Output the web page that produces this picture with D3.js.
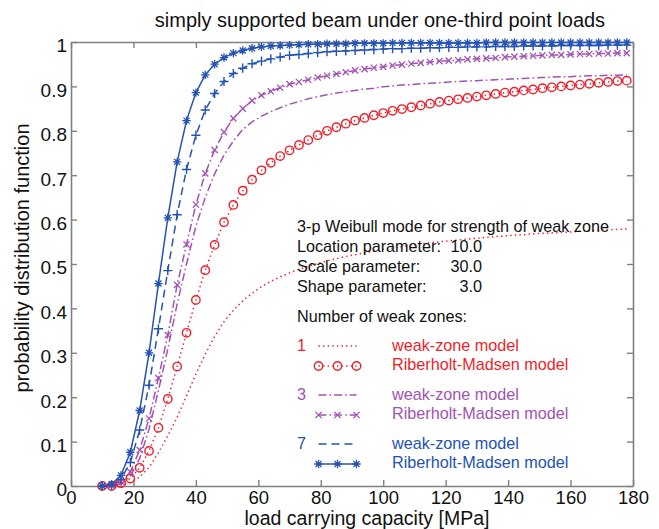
<!DOCTYPE html>
<html><head><meta charset="utf-8">
<script src="https://cdn.jsdelivr.net/npm/d3@7"></script>
<style>
body{margin:0;background:#fff}
svg{display:block}
text{font-family:"Liberation Sans",Arial,Helvetica,sans-serif}
</style>
</head><body>
<svg id="c" width="659" height="529"></svg>
<script>
// ---- data ----
const loads = [10,13,16,19,22,25,28,31,34,37,40,43,46,49,52,55,58,61,64,67,70,73,76,79,82,85,88,91,94,97,100,103,106,109,112,115,118,121,124,127,130,133,136,139,142,145,148,151,154,157,160,163,166,169,172,175,178];

const weak1 = [0,0,0.002,0.008,0.020,0.042,0.075,0.113,0.155,0.203,
  0.252,0.297,0.337,0.370,0.396,0.417,0.434,0.449,0.461,0.471,
  0.480,0.488,0.495,0.501,0.507,0.512,0.517,0.521,0.525,0.529,
  0.533,0.536,0.539,0.542,0.545,0.548,0.550,0.552,0.554,0.556,
  0.558,0.560,0.562,0.563,0.565,0.566,0.568,0.569,0.570,0.571,
  0.572,0.574,0.575,0.576,0.577,0.578,0.579];
const rm1 = [0,0,0.006,0.017,0.041,0.079,0.131,0.196,0.269,0.345,
  0.419,0.486,0.543,0.594,0.633,0.665,0.690,0.711,0.728,0.743,
  0.756,0.768,0.779,0.790,0.800,0.808,0.816,0.823,0.829,0.835,
  0.840,0.845,0.849,0.853,0.857,0.861,0.865,0.868,0.871,0.874,
  0.877,0.880,0.883,0.886,0.888,0.891,0.893,0.896,0.898,0.900,
  0.902,0.904,0.906,0.908,0.910,0.912,0.913];
const weak3 = [0,0,0.004,0.022,0.062,0.128,0.215,0.308,0.410,0.500,
  0.585,0.650,0.703,0.745,0.777,0.803,0.820,0.833,0.843,0.852,
  0.860,0.866,0.872,0.877,0.881,0.885,0.888,0.891,0.894,0.896,
  0.899,0.901,0.903,0.904,0.906,0.907,0.908,0.910,0.911,0.912,
  0.913,0.914,0.915,0.916,0.917,0.918,0.919,0.920,0.921,0.922,
  0.922,0.923,0.924,0.924,0.925,0.925,0.926];
const rm3 = [0,0.001,0.010,0.032,0.081,0.152,0.243,0.340,0.453,0.544,
  0.634,0.704,0.757,0.797,0.828,0.850,0.868,0.880,0.889,0.897,
  0.905,0.910,0.915,0.920,0.924,0.928,0.932,0.936,0.939,0.942,
  0.944,0.947,0.949,0.951,0.953,0.955,0.957,0.958,0.959,0.961,
  0.962,0.963,0.964,0.966,0.967,0.968,0.969,0.970,0.971,0.971,
  0.972,0.973,0.973,0.974,0.974,0.975,0.975];
const weak7 = [0,0.002,0.015,0.053,0.126,0.227,0.354,0.485,0.611,0.713,
  0.790,0.847,0.884,0.911,0.929,0.941,0.951,0.957,0.962,0.966,
  0.970,0.972,0.974,0.976,0.978,0.979,0.980,0.981,0.982,0.983,
  0.984,0.985,0.985,0.986,0.986,0.987,0.987,0.988,0.988,0.989,
  0.989,0.989,0.990,0.990,0.990,0.991,0.991,0.991,0.991,0.992,
  0.992,0.992,0.992,0.992,0.993,0.993,0.993];
const rm7 = [0,0.004,0.024,0.076,0.170,0.300,0.456,0.604,0.730,0.823,
  0.886,0.926,0.950,0.965,0.975,0.981,0.986,0.989,0.991,0.992,
  0.993,0.994,0.995,0.995,0.996,0.996,0.996,0.997,0.997,0.997,
  0.997,0.998,0.998,0.998,0.998,0.998,0.998,0.998,0.998,0.998,
  0.998,0.999,0.999,0.999,0.999,0.999,0.999,0.999,0.999,0.999,
  0.999,0.999,0.999,0.999,0.999,0.999,0.999];

const xTicks = [0,20,40,60,80,100,120,140,160,180];
const yTicks = [0,0.1,0.2,0.3,0.4,0.5,0.6,0.7,0.8,0.9,1];
const yTickLabels = ["0","0.1","0.2","0.3","0.4","0.5","0.6","0.7","0.8","0.9","1"];

const titleText = "simply supported beam under one-third point loads";
const xLabel = "load carrying capacity [MPa]";
const yLabel = "probability distribution function";
const infoLines = ["3-p Weibull mode for strength of weak zone","Location parameter:","Scale parameter:","Shape parameter:"];
const infoValues = ["10.0","30.0","3.0"];
const zoneHeader = "Number of weak zones:";
const zoneCounts = ["1","3","7"];
const modelNames = ["weak-zone model","Riberholt-Madsen model"];

// ---- styles ----
const RED = "#ee1f2b", PURPLE = "#a353b3", BLUE = "#2453b4", AXIS = "#808080";

const series = [
  {vals: weak1, color: RED,    dash: "1.4,3.2", marker: null},
  {vals: rm1,   color: RED,    dash: "1.4,3.2", marker: "o"},
  {vals: weak3, color: PURPLE, dash: "8,3,1.6,3", marker: null},
  {vals: rm3,   color: PURPLE, dash: "8,3,1.6,3", marker: "x"},
  {vals: weak7, color: BLUE,   dash: "8,5", marker: "+"},
  {vals: rm7,   color: BLUE,   dash: null, marker: "*"}
];

const svg = d3.select("#c");
const x = d3.scaleLinear().domain([0,180]).range([71,633]);
const y = d3.scaleLinear().domain([0,1]).range([486,42]);

// ---- axes (MATLAB box with inward ticks) ----
function styleAxis(g, fs){
  g.selectAll(".domain").attr("stroke",AXIS).attr("stroke-width",1.6);
  g.selectAll(".tick line").attr("stroke",AXIS).attr("stroke-width",1.4);
  g.selectAll("text").attr("font-size",fs||19).attr("fill","#111").attr("font-family","'Liberation Sans',Arial,sans-serif");
}
svg.append("g").attr("transform","translate(0,486)")
  .call(d3.axisBottom(x).tickValues(xTicks).tickSizeInner(-6).tickSizeOuter(0).tickPadding(5).tickFormat(d=>String(d)))
  .call(g=>styleAxis(g,18.5));
svg.append("g").attr("transform","translate(0,42)")
  .call(d3.axisTop(x).tickValues(xTicks).tickSizeInner(-6).tickSizeOuter(0).tickFormat(""))
  .call(g=>styleAxis(g));
const gl = svg.append("g").attr("transform","translate(71,0)")
  .call(d3.axisLeft(y).tickValues(yTicks).tickSizeInner(-6).tickSizeOuter(0).tickPadding(4).tickFormat((d,i)=>yTickLabels[i]))
  .call(g=>styleAxis(g,19));
gl.selectAll("text").attr("dy","0.52em");
svg.append("g").attr("transform","translate(633,0)")
  .call(d3.axisRight(y).tickValues(yTicks).tickSizeInner(-6).tickSizeOuter(0).tickFormat(""))
  .call(g=>styleAxis(g));

// ---- markers ----
function drawMarker(g, type, cx, cy, color){
  if(type==="o"){
    g.append("circle").attr("cx",cx).attr("cy",cy).attr("r",4.2)
      .attr("fill","none").attr("stroke",color).attr("stroke-width",1.4);
  } else if(type==="x"){
    const s=3.1;
    g.append("path").attr("d",`M${cx-s},${cy-s}L${cx+s},${cy+s}M${cx-s},${cy+s}L${cx+s},${cy-s}`)
      .attr("stroke",color).attr("stroke-width",1.3).attr("fill","none");
  } else if(type==="+"){
    const s=4.6;
    g.append("path").attr("d",`M${cx-s},${cy}L${cx+s},${cy}M${cx},${cy-s}L${cx},${cy+s}`)
      .attr("stroke",color).attr("stroke-width",1.4).attr("fill","none");
  } else if(type==="*"){
    const s=4.2, d=3.0;
    g.append("path").attr("d",`M${cx-s},${cy}L${cx+s},${cy}M${cx},${cy-s}L${cx},${cy+s}M${cx-d},${cy-d}L${cx+d},${cy+d}M${cx-d},${cy+d}L${cx+d},${cy-d}`)
      .attr("stroke",color).attr("stroke-width",1.3).attr("fill","none");
  }
}

// ---- series ----
const line = d3.line().x((d,i)=>x(loads[i])).y(d=>y(d));
const plot = svg.append("g");
series.forEach(s=>{
  const p = plot.append("path").datum(s.vals).attr("d",line)
    .attr("fill","none").attr("stroke",s.color).attr("stroke-width",1.5);
  if(s.dash) p.attr("stroke-dasharray",s.dash);
});
series.forEach(s=>{
  if(!s.marker) return;
  const g = plot.append("g");
  s.vals.forEach((v,i)=>drawMarker(g, s.marker, x(loads[i]), y(v), s.color));
});

// ---- titles ----
svg.append("text").attr("x",380).attr("y",27).attr("text-anchor","middle")
  .attr("font-size",20).attr("fill","#111").text(titleText);
svg.append("text").attr("x",367).attr("y",524.5).attr("text-anchor","middle")
  .attr("font-size",19.5).attr("fill","#111").text(xLabel);
svg.append("text").attr("transform","translate(29,258) rotate(-90)").attr("text-anchor","middle")
  .attr("font-size",20).attr("fill","#111").text(yLabel);

// ---- annotation / legend ----
const ann = svg.append("g").attr("font-size",16.2).attr("fill","#111");
const infoY = [232,252,272,292];
infoLines.forEach((t,i)=>ann.append("text").attr("x",297).attr("y",infoY[i]).text(t));
infoValues.forEach((t,i)=>ann.append("text").attr("x",482).attr("y",infoY[i+1]).attr("text-anchor","end").text(t));
ann.append("text").attr("x",297).attr("y",322).text(zoneHeader);

const legendRows = [
  {count: zoneCounts[0], color: RED,    yLine: 346, yMark: 366, base1: 351, base2: 370, s1: series[0], s2: series[1]},
  {count: zoneCounts[1], color: PURPLE, yLine: 395, yMark: 415, base1: 399.5, base2: 418.5, s1: series[2], s2: series[3]},
  {count: zoneCounts[2], color: BLUE,   yLine: 444, yMark: 464, base1: 448.5, base2: 468, s1: series[4], s2: series[5]}
];
const sampleX = [318.5, 337.5, 356.5];
legendRows.forEach(r=>{
  ann.append("text").attr("x",297).attr("y",r.base1).attr("fill",r.color).text(r.count);
  ann.append("text").attr("x",392).attr("y",r.base1).attr("fill",r.color).text(modelNames[0]);
  ann.append("text").attr("x",392).attr("y",r.base2).attr("fill",r.color).text(modelNames[1]);
  const l1 = ann.append("line").attr("x1",sampleX[0]).attr("x2",sampleX[2]).attr("y1",r.yLine).attr("y2",r.yLine)
    .attr("stroke",r.color).attr("stroke-width",1.5);
  if(r.s1.dash) l1.attr("stroke-dasharray",r.s1.dash);
  const l2 = ann.append("line").attr("x1",sampleX[0]).attr("x2",sampleX[2]).attr("y1",r.yMark).attr("y2",r.yMark)
    .attr("stroke",r.color).attr("stroke-width",1.5);
  if(r.s2.dash) l2.attr("stroke-dasharray",r.s2.dash);
  const mg = ann.append("g");
  sampleX.forEach(sx=>drawMarker(mg, r.s2.marker, sx, r.yMark, r.color));
});
</script>
</body></html>
